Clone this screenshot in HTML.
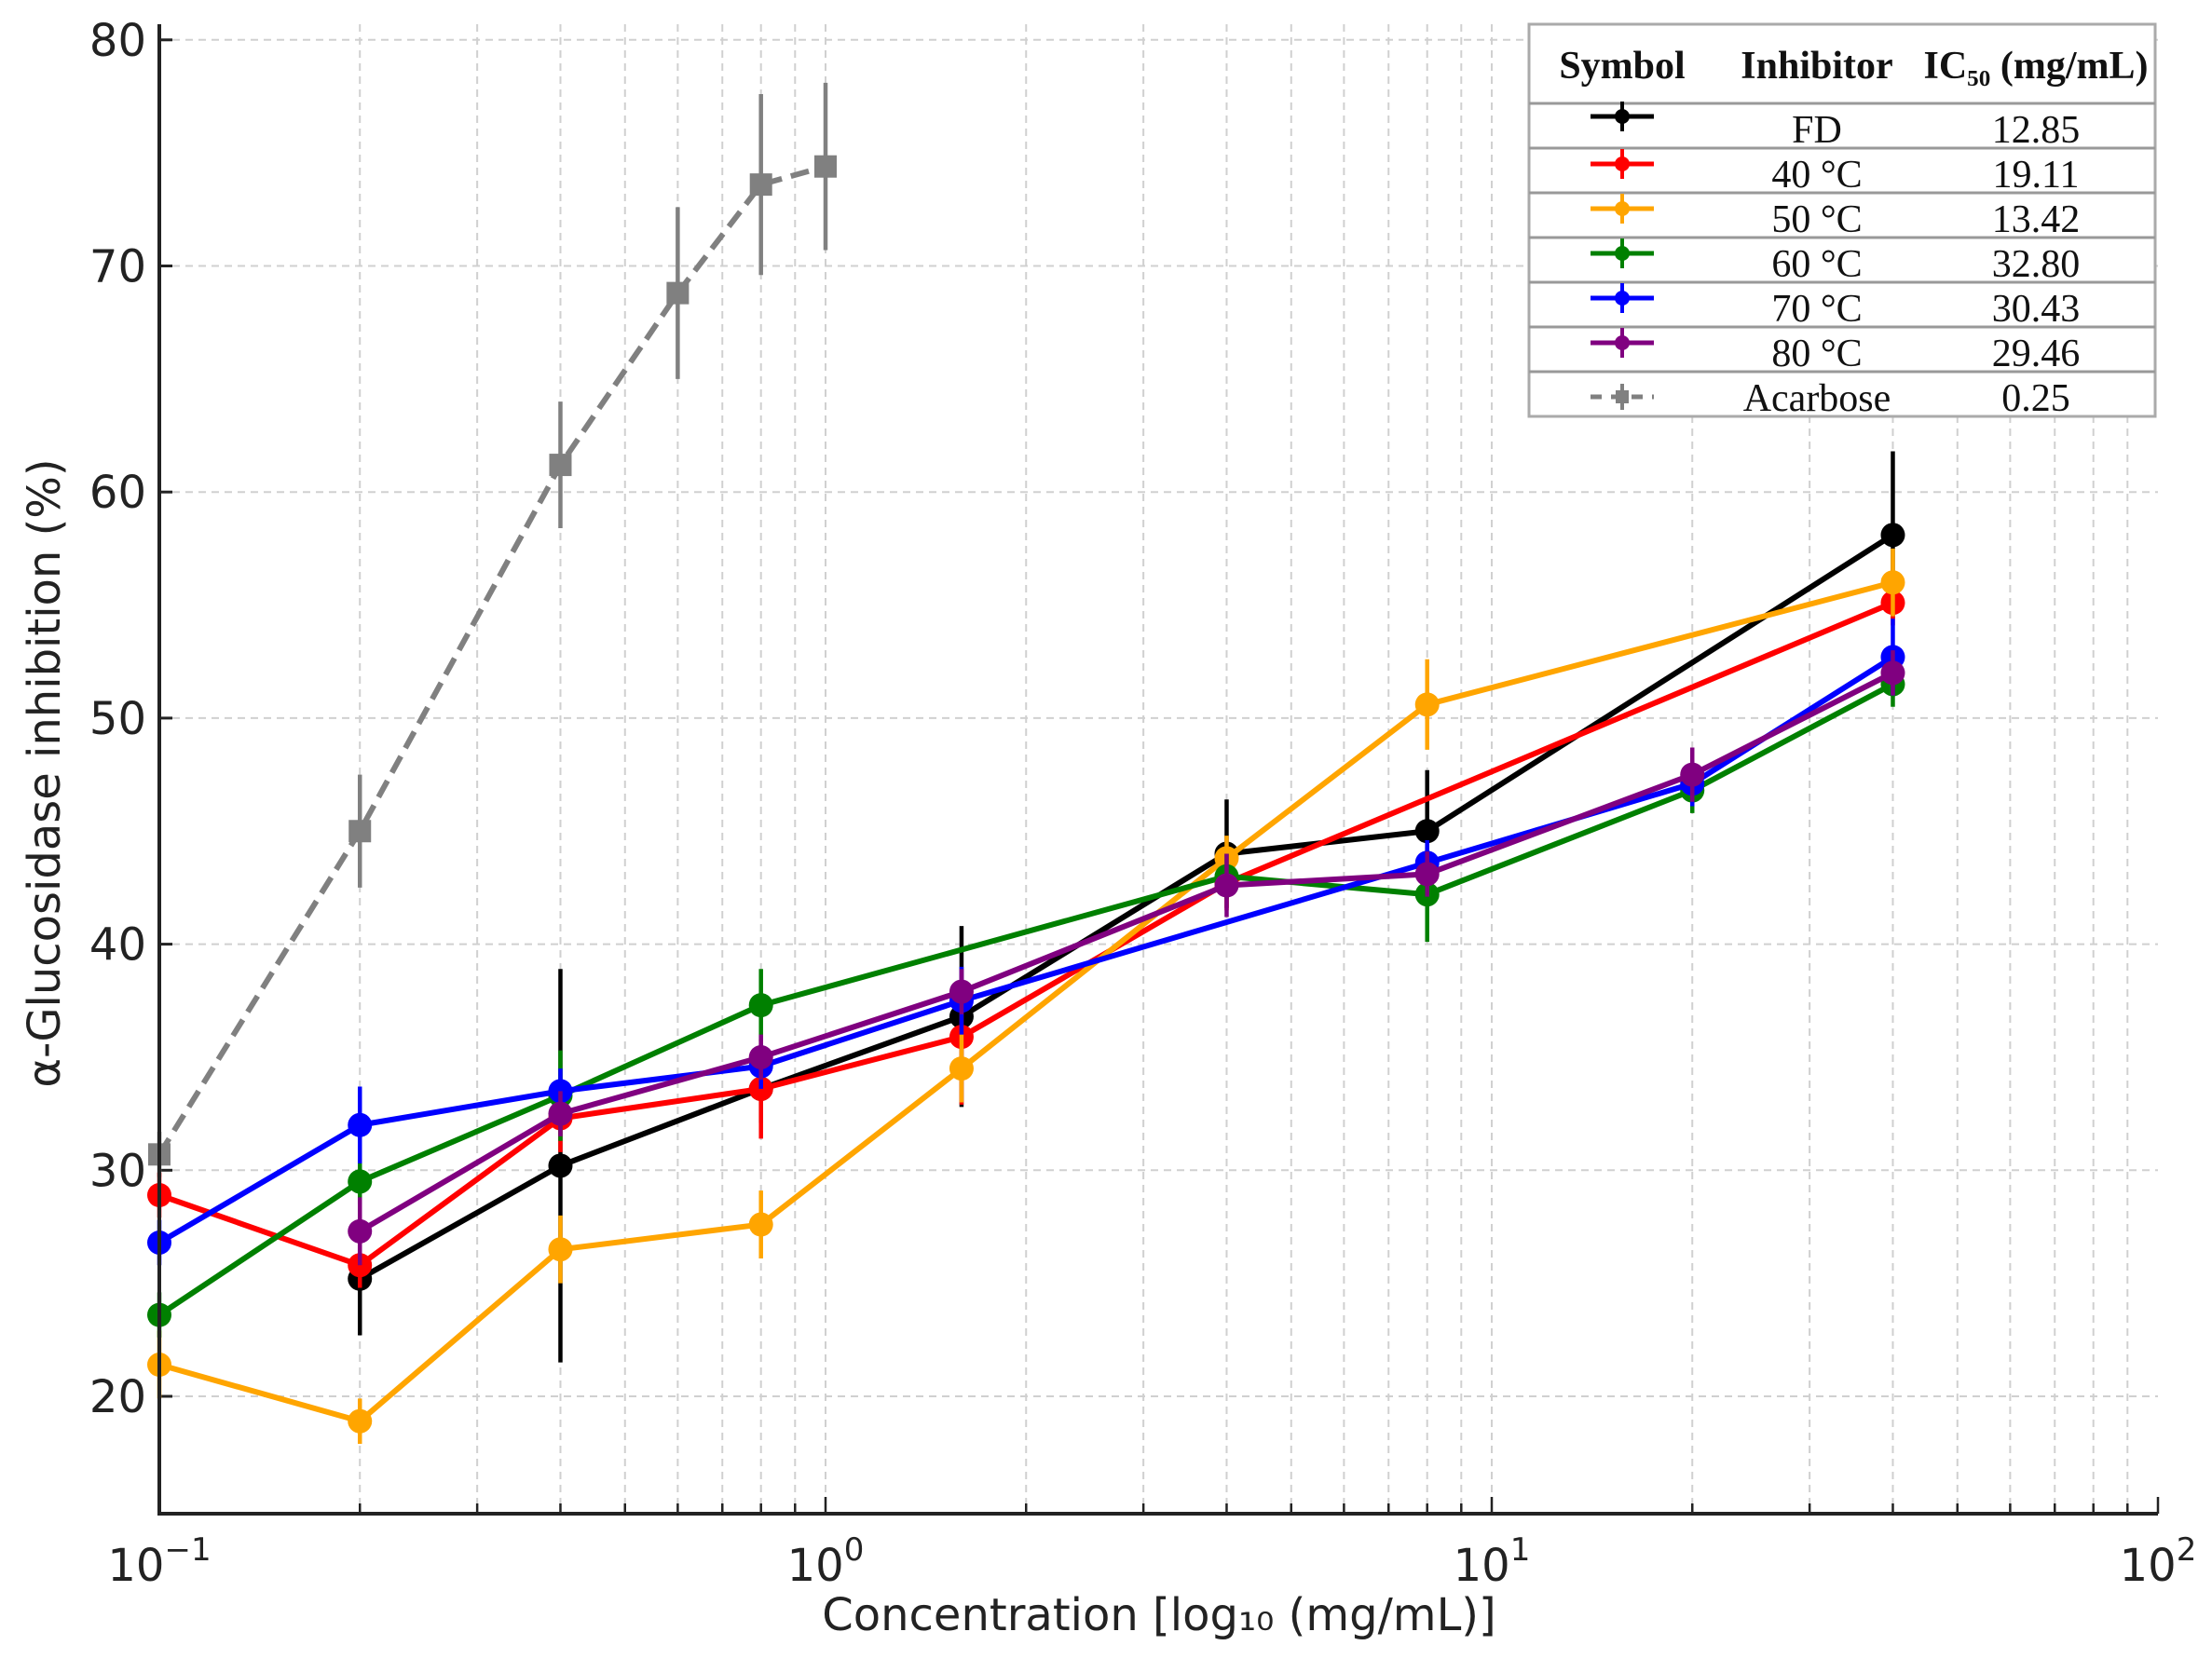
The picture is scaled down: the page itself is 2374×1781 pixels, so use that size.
<!DOCTYPE html>
<html><head><meta charset="utf-8"><style>
html,body{margin:0;padding:0;background:#fff;}
svg{display:block;}
.tk{font-family:"DejaVu Sans","Liberation Sans",sans-serif;font-size:48px;fill:#222;}
.lg{font-family:"Liberation Serif",serif;font-size:42px;fill:#111;}
</style></head><body>
<svg id="chart" width="2374" height="1781" viewBox="0 0 2374 1781" xmlns="http://www.w3.org/2000/svg"></svg>
<script>
const xs_main = [0.1, 0.2, 0.4, 0.8, 1.6, 4, 8, 20, 40];
const seriesNames = ["FD", "40 °C", "50 °C", "60 °C", "70 °C", "80 °C", "Acarbose"];
const ic50Values = ["12.85", "19.11", "13.42", "32.80", "30.43", "29.46", "0.25"];
const fdX = [0.2, 0.4, 0.8, 1.6, 4, 8, 40];
const fdY = [25.2, 30.2, 33.6, 36.8, 44.0, 45.0, 58.1];
const fdErr = [2.5, 8.7, 1.5, 4.0, 2.4, 2.7, 3.7];
const c40X = [0.1, 0.2, 0.4, 0.8, 1.6, 4, 40];
const c40Y = [28.9, 25.8, 32.3, 33.6, 35.9, 42.7, 55.1];
const c40Err = [1.0, 1.0, 1.5, 2.2, 3.0, 1.2, 1.0];
const c50X = [0.1, 0.2, 0.4, 0.8, 1.6, 4, 8, 40];
const c50Y = [21.4, 18.9, 26.5, 27.6, 34.5, 43.8, 50.6, 56.0];
const c50Err = [1.5, 1.0, 1.5, 1.5, 1.5, 1.0, 2.0, 1.5];
const c60X = [0.1, 0.2, 0.4, 0.8, 4, 8, 20, 40];
const c60Y = [23.6, 29.5, 33.3, 37.3, 43.0, 42.2, 46.8, 51.5];
const c60Err = [1.0, 1.0, 2.0, 1.6, 1.0, 2.1, 1.0, 1.0];
const c70X = [0.1, 0.2, 0.4, 0.8, 1.6, 8, 20, 40];
const c70Y = [26.8, 32.0, 33.5, 34.6, 37.5, 43.6, 47.1, 52.7];
const c70Err = [1.0, 1.7, 1.0, 1.0, 1.5, 1.0, 1.0, 1.7];
const c80X = [0.2, 0.4, 0.8, 1.6, 4, 8, 20, 40];
const c80Y = [27.3, 32.5, 35.0, 37.9, 42.6, 43.1, 47.5, 52.0];
const c80Err = [1.5, 1.0, 1.0, 1.0, 1.4, 1.0, 1.2, 1.0];
const acaX = [0.1, 0.2, 0.4, 0.6, 0.8, 1.0];
const acaY = [30.7, 45.0, 61.2, 68.8, 73.6, 74.4];
const acaErr = [1.0, 2.5, 2.8, 3.8, 4.0, 3.7];
const yTicks = [20, 30, 40, 50, 60, 70, 80];
const xTickExp = [-1, 0, 1, 2];

const NS = "http://www.w3.org/2000/svg";
const svg = document.getElementById("chart");
const X0 = 171, DEC = 715, Y20 = 1499, PX10 = 242.7;
const AX_L = 171, AX_R = 2316, AX_T = 26, AX_B = 1625;
function xs(v){ return X0 + DEC * (Math.log10(v) + 1); }
function ys(v){ return Y20 - (v - 20) * PX10 / 10; }
function mk(tag, attrs, parent){
  const e = document.createElementNS(NS, tag);
  for (const k in attrs) e.setAttribute(k, attrs[k]);
  (parent || svg).appendChild(e);
  return e;
}
const gridG = mk("g", {});


for (let e = -1; e <= 1; e++) {
  for (let m = 1; m <= 9; m++) {
    const v = m * Math.pow(10, e);
    const x = xs(v);
    if (x <= AX_L + 1) continue;
    mk("line", {x1:x, y1:AX_T, x2:x, y2:AX_B, stroke:"#d0d0d0", "stroke-width":2, "stroke-dasharray":"8,6"}, gridG);
    mk("line", {x1:x, y1:AX_B, x2:x, y2:AX_B-(m===1?18:11), stroke:"#222", "stroke-width":2.5}, gridG);
  }
}
mk("line", {x1:AX_R, y1:AX_B, x2:AX_R, y2:AX_B-18, stroke:"#222", "stroke-width":2.5}, gridG);
for (const t of yTicks) {
  const y = ys(t);
  mk("line", {x1:AX_L, y1:y, x2:AX_R, y2:y, stroke:"#d0d0d0", "stroke-width":2, "stroke-dasharray":"8,6"}, gridG);
  mk("line", {x1:AX_L, y1:y, x2:AX_L+14, y2:y, stroke:"#222", "stroke-width":3}, gridG);
  const tl = mk("text", {x:AX_L-14, y:y+17, "text-anchor":"end", class:"tk"});
  
  
  tl.textContent = t;
}
for (const e of xTickExp) {
  const x = xs(Math.pow(10, e));
  const tl = mk("text", {x:x, y:1697, "text-anchor":"middle", class:"tk"});
  
  
  tl.innerHTML = '10<tspan dy="-22" font-size="34">' + (e < 0 ? '−1' : e) + '</tspan>';
}

const series = [
  {x:fdX, y:fdY, e:fdErr, c:"#000000", n:"series-fd"},
  {x:c40X, y:c40Y, e:c40Err, c:"#ff0000", n:"series-40c"},
  {x:c50X, y:c50Y, e:c50Err, c:"#ffa500", n:"series-50c"},
  {x:c60X, y:c60Y, e:c60Err, c:"#008000", n:"series-60c"},
  {x:c70X, y:c70Y, e:c70Err, c:"#0000ff", n:"series-70c"},
  {x:c80X, y:c80Y, e:c80Err, c:"#800080", n:"series-80c"}
];
const plotG = mk("g", {});


{
  const g = mk("g", {}, plotG);
  
  
  const pts = acaX.map((v,i)=>xs(v)+","+ys(acaY[i])).join(" ");
  mk("polyline", {points:pts, fill:"none", stroke:"#808080", "stroke-width":6, "stroke-dasharray":"20,10"}, g);
  acaX.forEach((v,i)=>{
    mk("line", {x1:xs(v), y1:ys(acaY[i]-acaErr[i]), x2:xs(v), y2:ys(acaY[i]+acaErr[i]), stroke:"#808080", "stroke-width":4.5}, g);
    const r = mk("rect", {x:xs(v)-12, y:ys(acaY[i])-12, width:24, height:24, fill:"#808080"}, g);
    
    
  });
}
for (const s of series) {
  const g = mk("g", {}, plotG);
  
  
  const pts = s.x.map((v,i)=>xs(v)+","+ys(s.y[i])).join(" ");
  mk("polyline", {points:pts, fill:"none", stroke:s.c, "stroke-width":6, "stroke-linejoin":"round"}, g);
  s.x.forEach((v,i)=>{
    mk("line", {x1:xs(v), y1:ys(s.y[i]-s.e[i]), x2:xs(v), y2:ys(s.y[i]+s.e[i]), stroke:s.c, "stroke-width":4.5}, g);
    const c = mk("circle", {cx:xs(v), cy:ys(s.y[i]), r:13, fill:s.c}, g);
    
    
  });
}
const axG = mk("g", {});


mk("line", {x1:AX_L, y1:AX_T, x2:AX_L, y2:AX_B+2, stroke:"#222", "stroke-width":4}, axG);
mk("line", {x1:AX_L-2, y1:AX_B, x2:AX_R, y2:AX_B, stroke:"#222", "stroke-width":4}, axG);
const xl = mk("text", {x:1244, y:1750, "text-anchor":"middle", class:"tk", "font-size":"52"});


xl.textContent = "Concentration [log₁₀ (mg/mL)]";
const yl = mk("text", {x:0, y:0, "text-anchor":"middle", class:"tk", "font-size":"51", transform:"translate(64,830) rotate(-90)"});


yl.textContent = "α-Glucosidase inhibition (%)";

const LX = 1641, LY = 26, LW = 672, HH = 85, RH = 48;
const lg = mk("g", {});


mk("rect", {x:LX, y:LY, width:LW, height:HH+RH*7, fill:"#fff", stroke:"#aaa", "stroke-width":3}, lg);
const hdr = [["Symbol",1741],["Inhibitor",1950],["IC₅₀ (mg/mL)",2185]];
for (const [t,x] of hdr) {
  const h = mk("text", {x:x, y:LY+58, "text-anchor":"middle", class:"lg", "font-weight":"bold", "font-size":"38"}, lg);
  
  
  h.textContent = t;
}
const legColors = ["#000000","#ff0000","#ffa500","#008000","#0000ff","#800080","#808080"];
seriesNames.forEach((nm,i)=>{
  const top = LY + HH + i*RH;
  mk("line", {x1:LX, y1:top, x2:LX+LW, y2:top, stroke:"#999", "stroke-width":3}, lg);
  const e = mk("g", {}, lg);
  
  
  const sy = top + (i===0?14:17);
  const sx = 1741;
  if (i === 6) {
    mk("line", {x1:sx-34, y1:sy+10, x2:sx+34, y2:sy+10, stroke:legColors[i], "stroke-width":5, "stroke-dasharray":"12,10"}, e);
    mk("line", {x1:sx, y1:sy-4, x2:sx, y2:sy+24, stroke:legColors[i], "stroke-width":4}, e);
    mk("rect", {x:sx-7, y:sy+3, width:14, height:14, fill:legColors[i]}, e);
  } else {
    mk("line", {x1:sx-34, y1:sy, x2:sx+34, y2:sy, stroke:legColors[i], "stroke-width":5}, e);
    mk("line", {x1:sx, y1:sy-16, x2:sx, y2:sy+16, stroke:legColors[i], "stroke-width":4}, e);
    mk("circle", {cx:sx, cy:sy, r:8, fill:legColors[i]}, e);
  }
  const t1 = mk("text", {x:1950, y:top+42, "text-anchor":"middle", class:"lg"}, e);
  t1.textContent = nm;
  const t2 = mk("text", {x:2185, y:top+42, "text-anchor":"middle", class:"lg"}, e);
  t2.textContent = ic50Values[i];
});
</script>
</body></html>
